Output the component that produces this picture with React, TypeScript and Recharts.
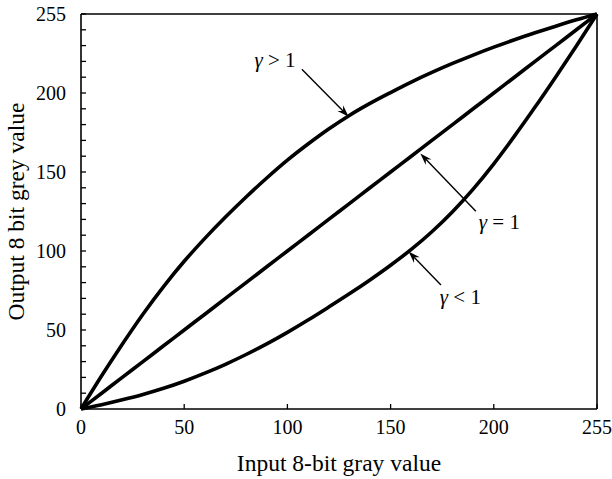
import React from "react";
import {
  LineChart,
  Line,
  XAxis,
  YAxis,
  ReferenceLine,
  ReferenceDot,
} from "recharts";

// input grey level (plotted 0..250, last tick reads 255)
const inputLevels = [
  0, 10, 20, 30, 40, 50, 60, 70, 80, 90, 100, 110, 120, 130, 140, 150, 160,
  170, 180, 190, 200, 210, 220, 230, 240, 250,
];
const gammaAbove = [
  0, 21, 41, 60, 77.5, 93.5, 108, 121.5, 134.2, 146.2, 157.5, 167.7, 177.2,
  185.8, 193.4, 200.3, 206.9, 213, 218.7, 224, 229, 233.7, 238.1, 242.3,
  246.3, 250,
];
const gammaOne = [
  0, 10, 20, 30, 40, 50, 60, 70, 80, 90, 100, 110, 120, 130, 140, 150, 160,
  170, 180, 190, 200, 210, 220, 230, 240, 250,
];
const gammaBelow = [
  0, 2.7, 5.8, 9.2, 13.1, 17.6, 22.7, 28.3, 34.5, 41.2, 48.5, 56.3, 64.5,
  72.9, 81.7, 91, 101, 112.2, 124.9, 139.2, 155.2, 172.7, 191.1, 210.2, 229.8,
  250,
];

const xTicks = [0, 50, 100, 150, 200, 250];
const yTicks = [
  0, 10, 20, 30, 40, 50, 60, 70, 80, 90, 100, 110, 120, 130, 140, 150, 160,
  170, 180, 190, 200, 210, 220, 230, 240, 250,
];
const tickText: Record<number, string> = {
  0: "0",
  50: "50",
  100: "100",
  150: "150",
  200: "200",
  250: "255",
};

// annotations: label spot and arrow (from -> to), data coords
const notes = [
  { rel: ">", lx: 94, ly: 221, from: [107, 215], to: [129.7, 185] },
  { rel: "=", lx: 202.7, ly: 118.5, from: [191.3, 125.1], to: [164.4, 161.7] },
  { rel: "<", lx: 183.8, ly: 71, from: [174.4, 78.5], to: [158.7, 99.7] },
];

const rows = inputLevels.map((x, i) => ({
  x,
  above: gammaAbove[i],
  one: gammaOne[i],
  below: gammaBelow[i],
}));

const FONT = '"Liberation Serif", "Times New Roman", serif';

const XTick = (props: any) => {
  const { x, y, payload } = props;
  return (
    <g>
      <line x1={x} y1={y} x2={x} y2={y - 5} stroke="#000" strokeWidth={1.3} />
      <text x={x} y={y + 25} textAnchor="middle" fontSize={20} fontFamily={FONT} fill="#000">
        {tickText[payload.value]}
      </text>
    </g>
  );
};

const YTick = (props: any) => {
  const { x, y, payload } = props;
  const label = tickText[payload.value];
  return (
    <g>
      <line x1={x} y1={y} x2={x + 5} y2={y} stroke="#000" strokeWidth={1.3} />
      {label !== undefined && (
        <text x={x - 15} y={y} dy="0.35em" textAnchor="end" fontSize={20} fontFamily={FONT} fill="#000">
          {label}
        </text>
      )}
    </g>
  );
};

const Arrow = (props: any) => {
  const { x1, y1, x2, y2 } = props;
  const dx = x2 - x1;
  const dy = y2 - y1;
  const len = Math.sqrt(dx * dx + dy * dy) || 1;
  const ux = dx / len;
  const uy = dy / len;
  const px = -uy;
  const py = ux;
  const L = 12;
  const W = 4;
  const bx = x2 - ux * L;
  const by = y2 - uy * L;
  const nx = x2 - ux * (L - 4);
  const ny = y2 - uy * (L - 4);
  return (
    <g>
      <line x1={x1} y1={y1} x2={nx} y2={ny} stroke="#000" strokeWidth={1.4} />
      <path
        d={`M${x2},${y2} L${bx + px * W},${by + py * W} L${nx},${ny} L${bx - px * W},${by - py * W} Z`}
        fill="#000"
      />
    </g>
  );
};

const gammaLabel = (rel: string) => (props: any) => {
  const { cx, cy } = props;
  return (
    <text x={cx} y={cy} dy="0.35em" textAnchor="middle" fontSize={21} fontFamily={FONT} fill="#000">
      <tspan fontStyle="italic">γ</tspan>
      {` ${rel} 1`}
    </text>
  );
};

export default function App() {
  return (
    <div style={{ position: "absolute", left: 0, top: 0, background: "#fff" }}>
      <LineChart
        width={612}
        height={479}
        data={rows}
        margin={{ top: 14, right: 15, bottom: 0, left: 0 }}
      >
        <XAxis
          dataKey="x"
          type="number"
          domain={[0, 250]}
          ticks={xTicks}
          interval={0}
          height={70}
          tickSize={0}
          tickMargin={0}
          tickLine={false}
          tick={XTick}
          axisLine={{ stroke: "#000", strokeWidth: 1.6 }}
          label={(p: any) => {
            const vb = p.viewBox;
            return (
              <text x={vb.x + vb.width / 2} y={vb.y + 62} textAnchor="middle" fontSize={23.5} fontFamily={FONT} fill="#000">
                Input 8-bit gray value
              </text>
            );
          }}
        />
        <YAxis
          type="number"
          domain={[0, 250]}
          ticks={yTicks}
          interval={0}
          width={81}
          tickSize={0}
          tickMargin={0}
          tickLine={false}
          tick={YTick}
          axisLine={{ stroke: "#000", strokeWidth: 1.6 }}
          label={(p: any) => {
            const vb = p.viewBox;
            const cy = vb.y + vb.height / 2;
            return (
              <text x={24} y={cy} transform={`rotate(-90 24 ${cy})`} textAnchor="middle" fontSize={23.5} fontFamily={FONT} fill="#000">
                Output 8 bit grey value
              </text>
            );
          }}
        />
        <ReferenceLine y={250} stroke="#000" strokeWidth={1.6} />
        <ReferenceLine x={250} stroke="#000" strokeWidth={1.6} />
        <Line dataKey="above" type="monotone" stroke="#000" strokeWidth={3.6} dot={false} isAnimationActive={false} />
        <Line dataKey="one" type="monotone" stroke="#000" strokeWidth={3.6} dot={false} isAnimationActive={false} />
        <Line dataKey="below" type="monotone" stroke="#000" strokeWidth={3.6} dot={false} isAnimationActive={false} />
        {notes.map((n) => (
          <ReferenceLine
            key={"a" + n.rel}
            segment={[
              { x: n.from[0], y: n.from[1] },
              { x: n.to[0], y: n.to[1] },
            ]}
            ifOverflow="visible"
            shape={Arrow}
          />
        ))}
        {notes.map((n) => (
          <ReferenceDot
            key={"t" + n.rel}
            x={n.lx}
            y={n.ly}
            r={0}
            ifOverflow="visible"
            shape={gammaLabel(n.rel)}
          />
        ))}
      </LineChart>
    </div>
  );
}
